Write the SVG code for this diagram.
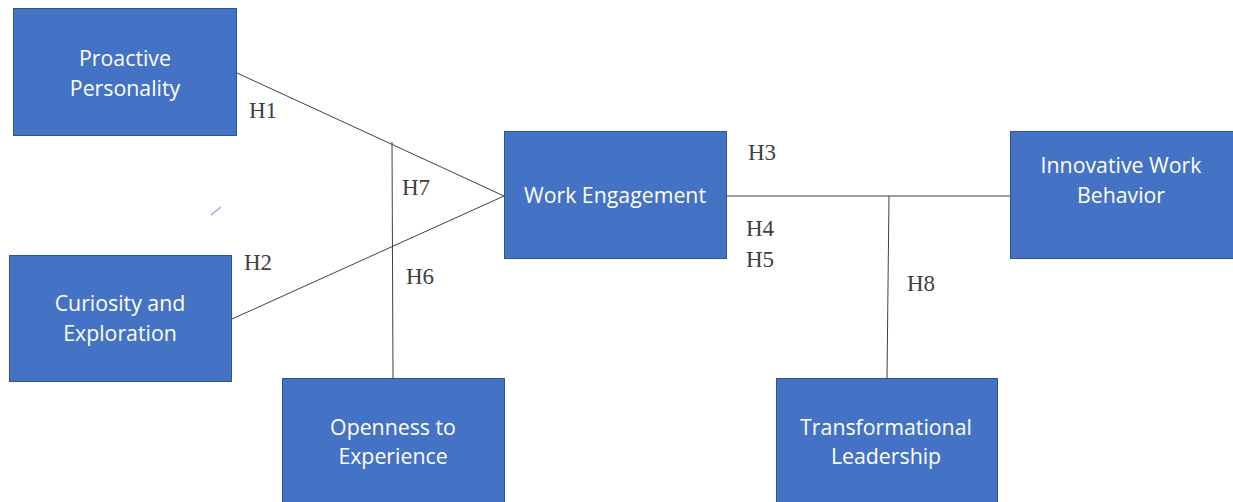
<svg xmlns="http://www.w3.org/2000/svg" width="1233" height="502" viewBox="0 0 1233 502">
<style>
.node rect{fill:#4472C4;stroke:#2F528F;stroke-width:1}
.node text{fill:#FFFFFF;font-family:"Open Sans","Liberation Sans",sans-serif;font-size:21.3px;text-anchor:middle}
.conn line{stroke:#404040;stroke-width:1}
.lbl{fill:#404040;font-family:"Liberation Serif",serif;font-size:23px}
</style>
<rect width="1233" height="502" fill="#FFFFFF"/>
<g id="connectors" class="conn">
<line x1="237" y1="73" x2="504" y2="196"/>
<line x1="232" y1="319" x2="504" y2="196"/>
<line x1="392" y1="142" x2="393" y2="378"/>
<line x1="727" y1="196" x2="1010" y2="196" stroke="#000000"/>
<line x1="889" y1="196" x2="887" y2="378"/>
</g>
<line x1="211" y1="215" x2="221" y2="207" stroke="#8EA9DB" stroke-width="1.5"/>
<g id="proactive" class="node">
<rect x="13.5" y="8.5" width="223" height="127"/>
<text x="125" y="66">Proactive</text>
<text x="125" y="96">Personality</text>
</g>
<g id="curiosity" class="node">
<rect x="9.5" y="255.5" width="222" height="126"/>
<text x="120" y="311">Curiosity and</text>
<text x="120" y="341">Exploration</text>
</g>
<g id="openness" class="node">
<rect x="282.5" y="378.5" width="222" height="130"/>
<text x="393" y="435">Openness to</text>
<text x="393" y="464">Experience</text>
</g>
<g id="engagement" class="node">
<rect x="504.5" y="131.5" width="222" height="127"/>
<text x="615" y="203">Work Engagement</text>
</g>
<g id="innovative" class="node">
<rect x="1010.5" y="131.5" width="228" height="127"/>
<text x="1121" y="173">Innovative Work</text>
<text x="1121" y="203">Behavior</text>
</g>
<g id="leadership" class="node">
<rect x="776.5" y="378.5" width="221" height="130"/>
<text x="886" y="435">Transformational</text>
<text x="886" y="464">Leadership</text>
</g>
<g id="labels">
<text class="lbl" x="249" y="118">H1</text>
<text class="lbl" x="244" y="270">H2</text>
<text class="lbl" x="748" y="160">H3</text>
<text class="lbl" x="746" y="236">H4</text>
<text class="lbl" x="746" y="267">H5</text>
<text class="lbl" x="406" y="284">H6</text>
<text class="lbl" x="402" y="195">H7</text>
<text class="lbl" x="907" y="291">H8</text>
</g>
</svg>
